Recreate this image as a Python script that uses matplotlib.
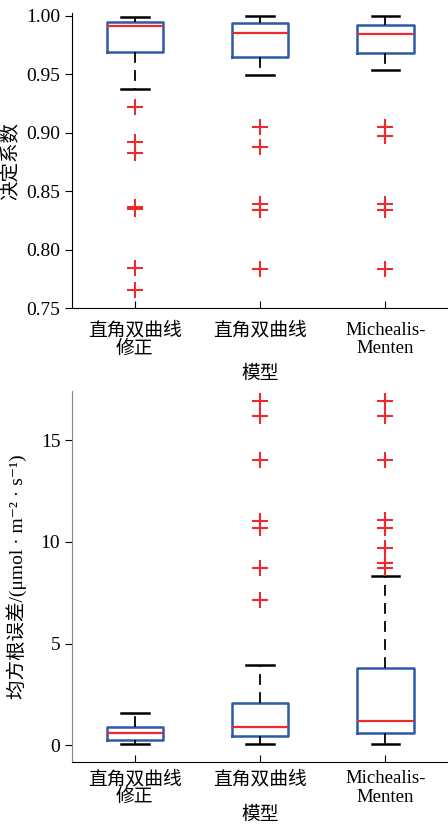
import matplotlib
matplotlib.use("Agg")
import matplotlib.pyplot as plt

fam = ['Liberation Serif', 'Noto Sans CJK SC', 'DejaVu Serif']
plt.rcParams['font.family'] = fam

models = ['直角双曲线\n修正', '直角双曲线', 'Michealis-\nMenten']

# 决定系数: (lower whisker, q1, median, q3, upper whisker)
r2_whislo = [0.9373, 0.9496, 0.9533]
r2_q1 = [0.9687, 0.9647, 0.9680]
r2_med = [0.9910, 0.9850, 0.9843]
r2_q3 = [0.9946, 0.9937, 0.9923]
r2_whishi = [0.9985, 0.9994, 0.9994]
r2_fliers = [
    [0.922, 0.8917, 0.883, 0.8362, 0.8352, 0.7843, 0.766],
    [0.9049, 0.888, 0.8393, 0.834, 0.7838],
    [0.9049, 0.8974, 0.8393, 0.834, 0.7838],
]

# 均方根误差
rmse_whislo = [0.06, 0.06, 0.06]
rmse_q1 = [0.26, 0.46, 0.61]
rmse_med = [0.59, 0.89, 1.22]
rmse_q3 = [0.90, 2.07, 3.78]
rmse_whishi = [1.61, 3.96, 8.34]
rmse_fliers = [
    [],
    [7.14, 8.73, 10.69, 11.05, 14.04, 16.17, 16.91],
    [8.70, 8.98, 9.69, 10.69, 11.08, 14.04, 16.17, 16.91],
]

blue = '#2c5aa8'
red = '#ee2a2e'


def make_stats(lo, q1, med, q3, hi, fl):
    return [dict(whislo=lo[i], q1=q1[i], med=med[i], q3=q3[i], whishi=hi[i],
                 fliers=fl[i], label=models[i]) for i in range(len(models))]


def draw(ax, stats, pad, lpad):
    ax.bxp(stats, positions=[1, 2, 3], widths=0.45, showfliers=True,
           boxprops=dict(color=blue, linewidth=1.8),
           medianprops=dict(color=red, linewidth=1.6),
           whiskerprops=dict(color='black', linewidth=1.3, linestyle=(0, (6, 4))),
           capprops=dict(color='black', linewidth=1.8),
           capwidths=0.22,
           flierprops=dict(marker='+', markeredgecolor=red, markersize=11,
                           markeredgewidth=1.5, linestyle='none'))
    ax.set_xlim(0.5, 3.5)
    for s in ['top', 'right']:
        ax.spines[s].set_visible(False)
    ax.tick_params(axis='x', direction='in', length=5, labelsize=13.5, pad=pad)
    ax.tick_params(axis='y', direction='out', length=5, labelsize=14)
    for t in ax.get_xticklabels():
        t.set_linespacing(1.1)
    ax.set_xlabel('模型', fontsize=13.5, labelpad=lpad)


fig = plt.figure(figsize=(4.48, 8.31), dpi=100)
ax1 = fig.add_axes([0.161, 0.629, 0.839, 0.355])
ax2 = fig.add_axes([0.161, 0.083, 0.839, 0.446])

draw(ax1, make_stats(r2_whislo, r2_q1, r2_med, r2_q3, r2_whishi, r2_fliers), 10, 5)
ax1.set_ylim(0.75, 1.002)
ax1.set_yticks([0.75, 0.80, 0.85, 0.90, 0.95, 1.00])
ax1.set_yticklabels(['0.75', '0.80', '0.85', '0.90', '0.95', '1.00'])
ax1.set_ylabel('决定系数', fontsize=14, labelpad=4)

draw(ax2, make_stats(rmse_whislo, rmse_q1, rmse_med, rmse_q3, rmse_whishi, rmse_fliers), 6, 0)
ax2.set_ylim(-0.82, 17.4)
ax2.set_yticks([0, 5, 10, 15])
ax2.set_ylabel('均方根误差/(μmol · m⁻² · s⁻¹)', fontsize=14, labelpad=10)
ax2.spines['left'].set_color('#888888')

fig.savefig('out.png', dpi=100)
